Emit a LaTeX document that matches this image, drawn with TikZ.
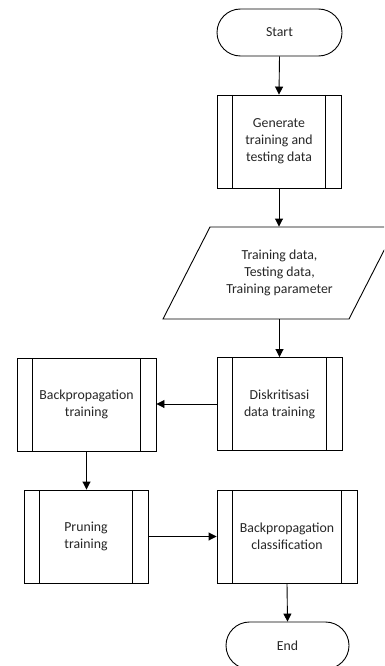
\documentclass[tikz,border=0pt]{standalone}
\usepackage{fontspec}
\setmainfont{Carlito}
\usetikzlibrary{shapes.misc,arrows.meta}
\tikzset{
  base/.style={draw=black, line width=0.9pt, align=center, inner sep=0pt,
    font=\fontsize{13.8}{17}\selectfont, text=black!85},
  term/.style={base, rounded rectangle, minimum width=#1, minimum height=47pt},
  ppbox/.style={base, rectangle, minimum width=#1, minimum height=93pt,
    path picture={
      \draw[line width=0.9pt] ([xshift=15.5pt]path picture bounding box.north west) -- ([xshift=15.5pt]path picture bounding box.south west);
      \draw[line width=0.9pt] ([xshift=-15.5pt]path picture bounding box.north east) -- ([xshift=-15.5pt]path picture bounding box.south east);
    }},
  iobox/.style={base, draw=none, minimum width=139pt, minimum height=92pt},
  conn/.style={line width=0.9pt, -{Triangle[width=8pt,length=8pt]}}
}
\begin{document}
\begin{tikzpicture}[x=1pt,y=-1pt]
\clip (0,0) rectangle (384,666);
\node[term=125pt] (start) at (279.5,32.5) {Start};
\node[ppbox=124pt] (gen) at (279,141.5) {Generate\\training and\\testing data};
\node[iobox] (io) at (279.5,273) {Training data,\\Testing data,\\Training parameter};
\draw[line width=0.9pt] ([shift={(-69.5,-46)}]io.center) -- ([shift={(116.5,-46)}]io.center)
  -- ([shift={(69.5,46)}]io.center) -- ([shift={(-116.5,46)}]io.center) -- cycle;
\node[ppbox=125pt] (disk) at (279.5,404) {Diskritisasi\\data training};
\node[ppbox=139pt] (bpt) at (86.5,404.5) {Backpropagation\\training};
\node[ppbox=124pt] (prune) at (86,536.5) {Pruning\\training};
\node[ppbox=140pt] (bpc) at (287,536.5) {Backpropagation\\classification};
\node[term=123pt] (end) at (287.5,645.5) {End};
\draw[conn] (start.south) -- (gen.north);
\draw[conn] (gen.south) -- (gen.south |- io.north);
\draw[conn] (io.south) -- (io.south |- disk.north);
\draw[conn] (disk.west) -- (bpt.east |- disk.west);
\draw[conn] (bpt.south) -- (bpt.south |- prune.north);
\draw[conn] (prune.east) -- (bpc.west |- prune.east);
\draw[conn] (bpc.south) -- (end.north);
\end{tikzpicture}
\end{document}
